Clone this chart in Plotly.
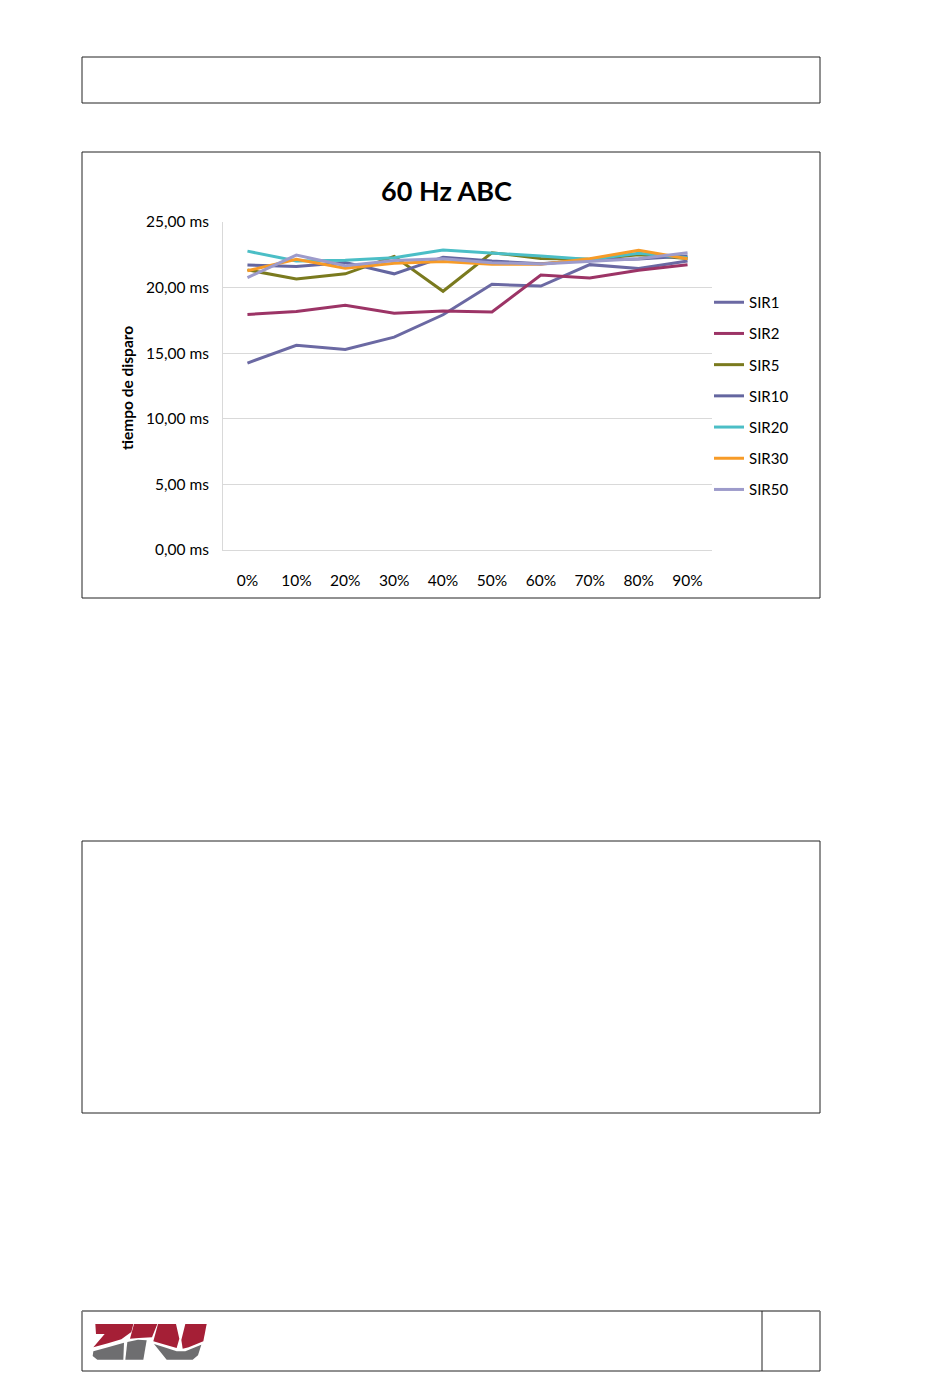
import plotly.graph_objects as go

# The page places the figure 8px from the top-left corner (body margin),
# so the figure is sized to fill the rest of the 950x1378 window.
OFF = 8
W, H = 950 - OFF, 1378 - OFF

categories = ["0%", "10%", "20%", "30%", "40%", "50%", "60%", "70%", "80%", "90%"]
series_names = ["SIR1", "SIR2", "SIR5", "SIR10", "SIR20", "SIR30", "SIR50"]
sir1 = [14.25, 15.60, 15.28, 16.22, 17.93, 20.25, 20.12, 21.75, 21.45, 22.02]
sir2 = [17.95, 18.17, 18.66, 18.04, 18.22, 18.14, 20.96, 20.74, 21.33, 21.75]
sir5 = [21.35, 20.66, 21.05, 22.38, 19.72, 22.66, 22.22, 22.16, 22.50, 22.22]
sir10 = [21.73, 21.60, 21.92, 21.05, 22.32, 22.02, 21.82, 22.10, 22.18, 22.40]
sir20 = [22.78, 22.03, 22.08, 22.28, 22.86, 22.65, 22.40, 22.15, 22.62, 22.28]
sir30 = [21.28, 22.15, 21.47, 21.86, 21.98, 21.78, 21.78, 22.20, 22.85, 22.20]
sir50 = [20.76, 22.48, 21.67, 22.07, 22.20, 21.90, 21.80, 22.00, 22.20, 22.65]
colors = ["#6B69A3", "#9C3466", "#7A7A1E", "#6466A0", "#4BBEC6", "#F79B27", "#9D9BCB"]
tick_vals = [0, 5, 10, 15, 20, 25]
tick_text = ["0,00 ms", "5,00 ms", "10,00 ms", "15,00 ms", "20,00 ms", "25,00 ms"]
title_text = "60 Hz ABC"
y_title = "tiempo de disparo"

FONT = "Lato, 'Open Sans', sans-serif"


def px(x):
    return (x - OFF) / W


def py(y):
    return 1 - (y - OFF) / H


fig = go.Figure()
for name, vals, col in zip(series_names, [sir1, sir2, sir5, sir10, sir20, sir30, sir50], colors):
    fig.add_trace(go.Scatter(
        x=categories, y=vals, name=name, mode="lines",
        line=dict(color=col, width=3),
        legendgroup=name,
    ))

shapes = []


def box(x0, y0, x1, y1, color="#222222", width=1):
    shapes.append(dict(type="rect", xref="paper", yref="paper",
                       x0=px(x0), x1=px(x1), y0=py(y1), y1=py(y0),
                       line=dict(color=color, width=width), fillcolor="rgba(0,0,0,0)",
                       layer="above"))


box(82, 57, 820, 103)
box(82, 152, 820, 598)
box(82, 841, 820, 1113)
box(82, 1311, 820, 1371)
shapes.append(dict(type="line", xref="paper", yref="paper",
                   x0=px(82), x1=px(820), y0=py(1311), y1=py(1311),
                   line=dict(color="#8A8A8A", width=1.5), layer="above"))
shapes.append(dict(type="line", xref="paper", yref="paper",
                   x0=px(762), x1=px(762), y0=py(1311), y1=py(1371),
                   line=dict(color="#222222", width=1)))


# ZIV logo (decoration), coordinates in local zoom space
def logo_path(pts):
    s = ""
    for i, (zx, zy) in enumerate(pts):
        x = px(88 + zx / 3.0)
        y = py(1318 + zy / 3.0)
        s += ("M" if i == 0 else "L") + f"{x:.5f},{y:.5f} "
    return s + "Z"


RED = "#A51F36"
GRAY = "#6E6E70"
logo_parts = [
    (RED, [(22, 18), (136, 18), (130, 42), (100, 64), (60, 76), (16, 88), (50, 48), (24, 48)]),
    (RED, [(138, 18), (208, 18), (192, 58), (152, 60), (126, 62)]),
    (RED, [(210, 18), (264, 18), (274, 62), (266, 90), (232, 80), (196, 70)]),
    (RED, [(292, 18), (356, 18), (346, 70), (302, 88), (284, 92), (280, 66)]),
    (GRAY, [(16, 100), (60, 88), (108, 74), (106, 125), (28, 125), (14, 114)]),
    (GRAY, [(118, 72), (150, 65), (176, 67), (166, 125), (112, 125)]),
    (GRAY, [(198, 78), (236, 90), (266, 100), (292, 100), (340, 80), (330, 112), (314, 125), (236, 125)]),
]
for col, pts in logo_parts:
    shapes.append(dict(type="path", xref="paper", yref="paper", path=logo_path(pts),
                       fillcolor=col, line=dict(width=0), layer="above"))

annotations = [
    dict(text=f"<b>{title_text}</b>", x=px(446), y=py(191), xref="paper", yref="paper",
         showarrow=False, font=dict(family=FONT, size=27, color="#000000"),
         xanchor="center", yanchor="middle"),
    dict(text=f"<b>{y_title}</b>", x=px(127), y=py(388), xref="paper", yref="paper",
         showarrow=False, textangle=-90, font=dict(family=FONT, size=15.5, color="#000000"),
         xanchor="center", yanchor="middle"),
]

fig.update_layout(
    width=W, height=H,
    margin=dict(l=0, r=0, t=0, b=0, pad=0, autoexpand=False),
    paper_bgcolor="white", plot_bgcolor="white",
    shapes=shapes, annotations=annotations,
    font=dict(family=FONT, size=15.5, color="#000000"),
    xaxis=dict(domain=[px(223), px(712)], range=[-0.5, 9.5], type="category",
               showgrid=False, showline=True, linecolor="#D9D9D9", linewidth=1,
               ticks="", ticklabelstandoff=16, automargin=False,
               tickfont=dict(family=FONT, size=15.5)),
    yaxis=dict(domain=[py(550), py(222)], range=[0, 25],
               tickvals=tick_vals, ticktext=tick_text,
               showgrid=True, gridcolor="#D9D9D9", gridwidth=1,
               showline=True, linecolor="#D9D9D9", linewidth=1,
               zeroline=False, ticks="", ticklabelstandoff=10, automargin=False,
               tickfont=dict(family=FONT, size=15.5)),
    showlegend=True,
    legend=dict(x=px(709), y=py(286), xanchor="left", yanchor="top",
                traceorder="grouped", tracegroupgap=8.7,
                font=dict(family=FONT, size=15, color="#000000"),
                bgcolor="rgba(0,0,0,0)", borderwidth=0, itemwidth=30),
)

fig.write_html("out.html")
